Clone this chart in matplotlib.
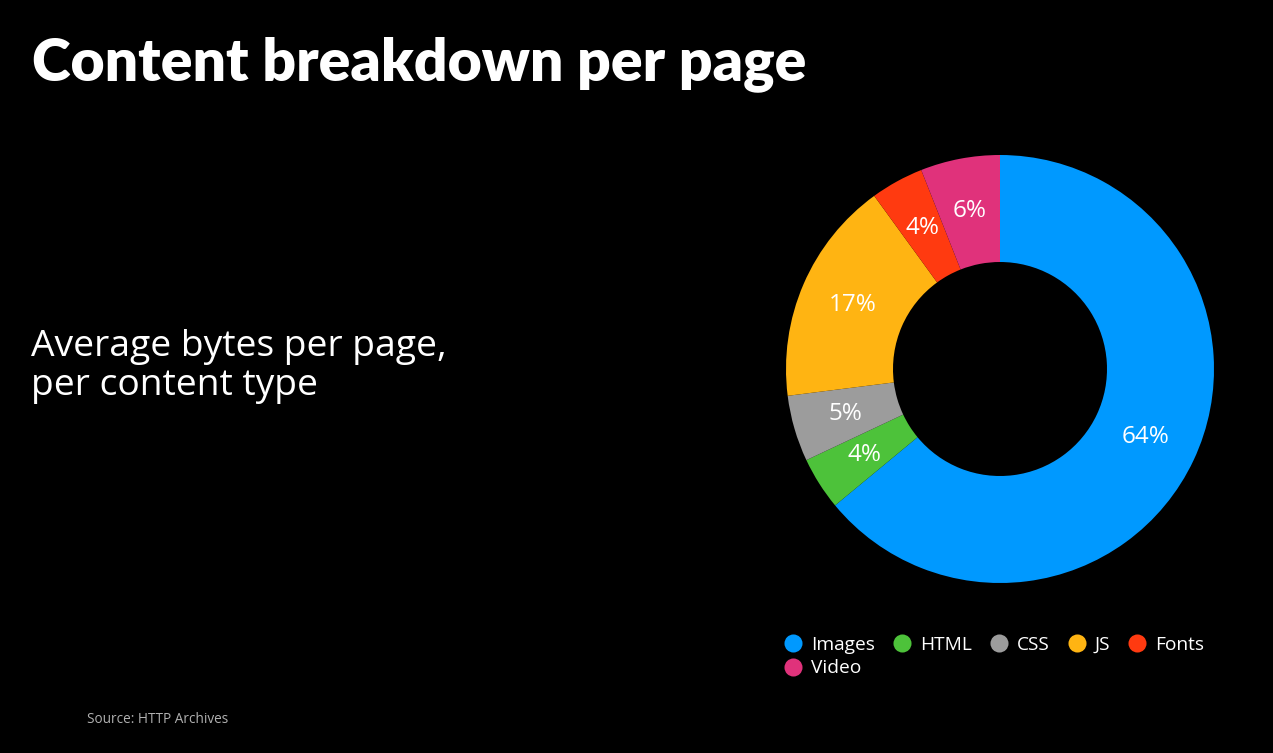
import matplotlib
matplotlib.use("Agg")
import matplotlib.pyplot as plt
from matplotlib.lines import Line2D

categories = ["Images", "HTML", "CSS", "JS", "Fonts", "Video"]
shares = [64, 4, 5, 17, 4, 6]
colors = ["#0099FF", "#4DC23A", "#9C9C9C", "#FFB412", "#FF3A10", "#E0327B"]

W, H = 1273, 753
fig = plt.figure(figsize=(W / 100, H / 100), dpi=100, facecolor="black")

# title + subtitle
title_font = ["Lato", "Open Sans", "DejaVu Sans"]
body_font = ["Open Sans", "DejaVu Sans"]
fig.text(32 / W, 1 - 80 / H, "Content breakdown per page", color="white",
         fontsize=42.4, fontweight="heavy", family=title_font, va="baseline")
fig.text(31 / W, 1 - 356 / H, "Average bytes per page,", color="white",
         fontsize=26.8, family=body_font, va="baseline")
fig.text(31 / W, 1 - 395 / H, "per content type", color="white",
         fontsize=26.8, family=body_font, va="baseline")
fig.text(87 / W, 1 - 723 / H, "Source: HTTP Archives", color="#b0b0b0",
         fontsize=9.8, family=body_font, va="baseline")

# donut, centre (1000, 369) px, outer radius 214 px
cx, cy, r, half = 1000, 369, 214, 220
ax = fig.add_axes([(cx - half) / W, (H - cy - half) / H, 2 * half / W, 2 * half / H])
ax.set_facecolor("black")
wedges, _, autotexts = ax.pie(
    shares, colors=colors, startangle=90, counterclock=False, radius=1,
    autopct="%.0f%%", pctdistance=0.75,
    wedgeprops=dict(width=0.5, linewidth=0),
    textprops=dict(color="white", fontsize=17.5, family=body_font))
lim = half / r
ax.set_xlim(-lim, lim)
ax.set_ylim(-lim, lim)
ax.axis("off")

# legend: order so that column-wise fill gives 5 on the first row, Video below
order = [0, 5, 1, 2, 3, 4]
handles = [Line2D([], [], marker="o", linestyle="", markersize=13,
                  markerfacecolor=colors[i], markeredgewidth=0) for i in order]
labels = [categories[i] for i in order]
fig.legend(handles, labels, loc="upper left", bbox_to_anchor=(774 / W, 1 - 626 / H),
           ncol=5, frameon=False, borderpad=0, handlelength=1.0, handletextpad=0.45,
           columnspacing=0.9, labelspacing=0.3, labelcolor="white",
           prop=dict(family=body_font, size=13.8))

fig.savefig("out.png", dpi=100, facecolor="black")
